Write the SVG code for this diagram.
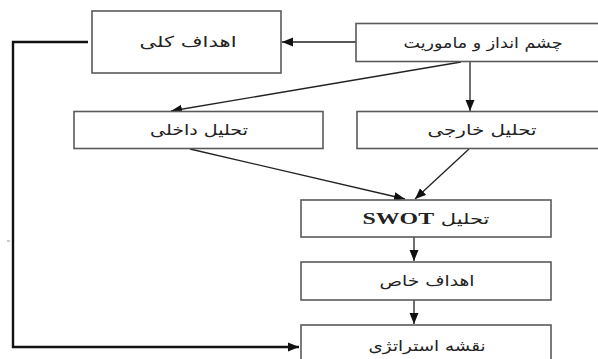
<svg xmlns="http://www.w3.org/2000/svg" width="598" height="359" viewBox="0 0 598 359">
<defs>
<style>
.box{fill:#fff;stroke:#5a5a5a;stroke-width:1.6}
.lbl{font-family:"DejaVu Sans","Noto Sans",sans-serif;font-size:15px;fill:#222;text-anchor:middle;direction:rtl}
.con{fill:none;stroke:#222;stroke-width:1.3}
.loop{fill:none;stroke:#111;stroke-width:2.4}
</style>
<marker id="ah" markerUnits="userSpaceOnUse" markerWidth="12" markerHeight="10" refX="11" refY="5" orient="auto">
<path d="M0,0.5 L11,5 L0,9.5 Z" fill="#111"/>
</marker>
</defs>
<rect width="598" height="359" fill="#fff"/>
<g id="connectors">
<line class="con" x1="356" y1="42" x2="282" y2="42" marker-end="url(#ah)"/>
<polyline class="loop" points="88,42 13,42 13,347 299,347" marker-end="url(#ah)"/>
<line class="con" x1="470" y1="62" x2="470" y2="111" marker-end="url(#ah)"/>
<line class="con" x1="461" y1="62" x2="171" y2="111" marker-end="url(#ah)"/>
<line class="con" x1="190" y1="149" x2="405" y2="199" marker-end="url(#ah)"/>
<line class="con" x1="469" y1="149" x2="415" y2="199" marker-end="url(#ah)"/>
<line class="con" x1="414" y1="237" x2="414" y2="261" marker-end="url(#ah)"/>
<line class="con" x1="414" y1="300" x2="414" y2="324" marker-end="url(#ah)"/>
<line x1="7" y1="241" x2="10" y2="241" stroke="#999" stroke-width="1"/>
</g>
<g id="n-goals">
<rect class="box" x="92" y="11" width="189" height="62"/>
<text class="lbl" x="188" y="47" textLength="97" lengthAdjust="spacingAndGlyphs">اهداف کلی</text>
</g>
<g id="n-vision">
<rect class="box" x="356" y="23.5" width="250" height="38"/>
<text class="lbl" x="483" y="48" textLength="159" lengthAdjust="spacingAndGlyphs">چشم انداز و ماموریت</text>
</g>
<g id="n-internal">
<rect class="box" x="74" y="111.5" width="249" height="37"/>
<text class="lbl" x="199" y="135" textLength="98" lengthAdjust="spacingAndGlyphs">تحلیل داخلی</text>
</g>
<g id="n-external">
<rect class="box" x="357" y="111.5" width="250" height="37"/>
<text class="lbl" x="482" y="135" textLength="109" lengthAdjust="spacingAndGlyphs">تحلیل خارجی</text>
</g>
<g id="n-swot">
<rect class="box" x="301" y="200" width="250" height="37"/>
<text class="lbl" x="426" y="224" textLength="127" lengthAdjust="spacingAndGlyphs">تحلیل <tspan font-family="Liberation Serif" font-weight="bold" font-size="17">SWOT</tspan></text>
</g>
<g id="n-specific">
<rect class="box" x="301" y="262" width="250" height="38"/>
<text class="lbl" x="427" y="286" textLength="95" lengthAdjust="spacingAndGlyphs">اهداف خاص</text>
</g>
<g id="n-strategy">
<rect class="box" x="301" y="325" width="250" height="45"/>
<text class="lbl" x="427" y="351" textLength="117" lengthAdjust="spacingAndGlyphs">نقشه استراتژی</text>
</g>
</svg>
